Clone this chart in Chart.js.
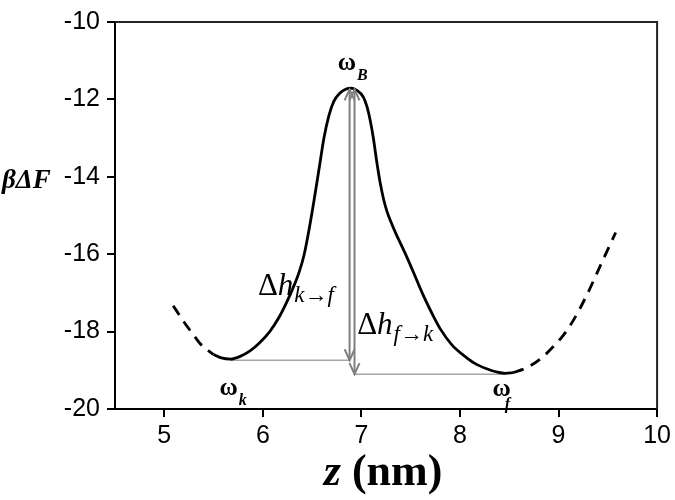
<!DOCTYPE html>
<html lang="en">
    <head>
        <meta charset="utf-8" />
        <title>Free energy profile</title>
        <style>
            body { margin: 0; background: #fff; }
            #box { width: 675px; height: 500px; }
        </style>
    </head>
    <body>
        <div id="box"><canvas id="grafico"></canvas></div>

        <script src="https://cdn.jsdelivr.net/npm/chart.js@4.4.1/dist/chart.umd.min.js"></script>

        <script>
            // datos
            const xTicks = [5, 6, 7, 8, 9, 10];
            const yTicks = [-20, -18, -16, -14, -12, -10];

            const zIzqDash = [5.09, 5.2, 5.3, 5.36, 5.45, 5.5];
            const fIzqDash = [-17.33, -17.75, -18.1, -18.3, -18.5, -18.59];

            const zSolida = [5.5, 5.58, 5.67, 5.77, 5.87, 5.97, 6.07, 6.16, 6.24, 6.31, 6.37, 6.42, 6.47, 6.52, 6.57, 6.62, 6.67, 6.72, 6.78, 6.84, 6.89, 6.95, 7.02, 7.06, 7.09, 7.12, 7.155, 7.19, 7.225, 7.26, 7.3, 7.35, 7.4, 7.46, 7.53, 7.62, 7.71, 7.8, 7.92, 8.04, 8.15, 8.27, 8.38, 8.46, 8.54];
            const fSolida = [-18.59, -18.68, -18.71, -18.64, -18.5, -18.28, -18.0, -17.65, -17.25, -16.85, -16.45, -16.0, -15.35, -14.6, -13.8, -13.0, -12.42, -12.05, -11.84, -11.74, -11.71, -11.76, -11.94, -12.22, -12.55, -12.98, -13.6, -14.15, -14.58, -14.9, -15.17, -15.47, -15.74, -16.07, -16.48, -17.02, -17.5, -17.93, -18.35, -18.62, -18.82, -18.96, -19.05, -19.08, -19.06];

            const zDerDash = [8.54, 8.68, 8.81, 8.95, 9.05, 9.15, 9.29, 9.42, 9.58];
            const fDerDash = [-19.06, -18.93, -18.72, -18.38, -18.09, -17.71, -17.04, -16.32, -15.44];

            // flechas verticales (x, arriba, abajo) y lineas horizontales
            const flechaX = [6.88, 6.93];
            const flechaTop = [-11.74, -11.74];
            const flechaBot = [-18.74, -19.1];
            const lineaK = { x: [5.67, 6.88], y: [-18.74, -18.74] };
            const lineaF = { x: [6.93, 8.46], y: [-19.1, -19.1] };

            function puntos(xs, ys) {
                return xs.map((v, i) => ({ x: v, y: ys[i] }));
            }

            const SERIF = '"Liberation Serif", "Times New Roman", serif';

            function sub(ctx, base, fontBase, s, fontSub, x, y, dx, dy) {
                ctx.font = fontBase;
                ctx.fillText(base, x, y);
                const w = ctx.measureText(base).width;
                ctx.font = fontSub;
                ctx.fillText(s, x + w + dx, y + dy);
            }

            const extras = {
                id: "extras",
                afterDraw(chart) {
                    const ctx = chart.ctx;
                    const a = chart.chartArea;
                    const sx = chart.scales.x;
                    const sy = chart.scales.y;
                    ctx.save();

                    // marco superior y derecho
                    ctx.strokeStyle = "#222";
                    ctx.lineWidth = 2;
                    ctx.beginPath();
                    ctx.moveTo(a.left, a.top);
                    ctx.lineTo(a.right, a.top);
                    ctx.lineTo(a.right, a.bottom);
                    ctx.stroke();

                    // flechas dobles
                    ctx.strokeStyle = "#7f7f7f";
                    ctx.lineWidth = 2;
                    for (let i = 0; i < flechaX.length; i++) {
                        const px = sx.getPixelForValue(flechaX[i]);
                        const y1 = sy.getPixelForValue(flechaTop[i]);
                        const y2 = sy.getPixelForValue(flechaBot[i]);
                        ctx.beginPath();
                        ctx.moveTo(px, y1);
                        ctx.lineTo(px, y2);
                        ctx.stroke();
                        ctx.beginPath();
                        ctx.moveTo(px - 5, y2 - 11);
                        ctx.lineTo(px, y2);
                        ctx.lineTo(px + 5, y2 - 11);
                        ctx.stroke();
                        ctx.beginPath();
                        ctx.moveTo(px - 5, y1 + 11);
                        ctx.lineTo(px, y1);
                        ctx.lineTo(px + 5, y1 + 11);
                        ctx.stroke();
                    }

                    // textos
                    ctx.fillStyle = "#000";
                    ctx.textBaseline = "alphabetic";
                    ctx.textAlign = "left";
                    const P = (x, y) => [sx.getPixelForValue(x), sy.getPixelForValue(y)];

                    let p = P(6.76, -11.24);
                    sub(ctx, "ω", "bold 25px " + SERIF, "B", "bold italic 16px " + SERIF, p[0], p[1], 1, 10);
                    p = P(5.56, -19.65);
                    sub(ctx, "ω", "bold 25px " + SERIF, "k", "bold italic 16px " + SERIF, p[0], p[1], 1, 10);
                    p = P(8.33, -19.67);
                    sub(ctx, "ω", "bold 25px " + SERIF, "f", "bold italic 16px " + SERIF, p[0], p[1], -6, 13);

                    p = P(5.95, -17.05);
                    ctx.font = "31px " + SERIF;
                    ctx.fillText("Δ", p[0], p[1]);
                    let w = ctx.measureText("Δ").width;
                    sub(ctx, "h", "italic 31px " + SERIF, "k→f", "italic 23px " + SERIF, p[0] + w, p[1], 1, 7);
                    p = P(6.957, -18.06);
                    ctx.font = "31px " + SERIF;
                    ctx.fillText("Δ", p[0], p[1]);
                    w = ctx.measureText("Δ").width;
                    sub(ctx, "h", "italic 31px " + SERIF, "f→k", "italic 23px " + SERIF, p[0] + w, p[1], 1, 7);

                    // titulo eje y
                    ctx.font = "bold italic 27px " + SERIF;
                    ctx.fillText("βΔF", 2, sy.getPixelForValue(-14) + 11);

                    // titulo eje x
                    const t1 = "z";
                    const t2 = " (nm)";
                    ctx.font = "bold italic 44px " + SERIF;
                    const w1 = ctx.measureText(t1).width;
                    ctx.font = "bold 44px " + SERIF;
                    const w2 = ctx.measureText(t2).width;
                    const cx = sx.getPixelForValue(7.22);
                    const x0 = cx - (w1 + w2) / 2;
                    const by = a.bottom + 76;
                    ctx.font = "bold italic 44px " + SERIF;
                    ctx.fillText(t1, x0, by);
                    ctx.font = "bold 44px " + SERIF;
                    ctx.fillText(t2, x0 + w1, by);

                    ctx.restore();
                },
            };

            const ejeComun = {
                type: "linear",
                grid: { display: true, drawOnChartArea: false, drawTicks: true, tickLength: 8, color: "#000", lineWidth: 2 },
                border: { display: true, color: "#000", width: 2 },
            };
            const fuenteTicks = { family: '"Liberation Sans", Arial, sans-serif', size: 25 };

            const curva = {
                showLine: true,
                borderColor: "#000",
                borderWidth: 2.8,
                pointRadius: 0,
                cubicInterpolationMode: "monotone",
            };

            new Chart(document.getElementById("grafico"), {
                type: "scatter",
                data: {
                    datasets: [
                        { ...curva, data: puntos(zSolida, fSolida) },
                        { ...curva, data: puntos(zIzqDash, fIzqDash), borderDash: [11, 8] },
                        { ...curva, data: puntos(zDerDash, fDerDash), borderDash: [11, 8] },
                        {
                            data: puntos(lineaK.x, lineaK.y),
                            showLine: true,
                            borderColor: "#a6a6a6",
                            borderWidth: 1.5,
                            pointRadius: 0,
                        },
                        {
                            data: puntos(lineaF.x, lineaF.y),
                            showLine: true,
                            borderColor: "#a6a6a6",
                            borderWidth: 1.5,
                            pointRadius: 0,
                        },
                    ],
                },
                options: {
                    responsive: true,
                    maintainAspectRatio: false,
                    animation: false,
                    layout: { padding: { left: 0, top: 13, right: 16, bottom: 0 } },
                    plugins: { legend: { display: false }, tooltip: { enabled: false } },
                    scales: {
                        x: {
                            ...ejeComun,
                            min: 4.5,
                            max: 10,
                            afterBuildTicks: (s) => { s.ticks = xTicks.map((v) => ({ value: v })); },
                            afterFit: (s) => { s.height = 91; },
                            ticks: { color: "#000", font: fuenteTicks, padding: 4, maxRotation: 0 },
                        },
                        y: {
                            ...ejeComun,
                            min: -20,
                            max: -10,
                            afterBuildTicks: (s) => { s.ticks = yTicks.map((v) => ({ value: v })); },
                            afterFit: (s) => { s.width = 115; },
                            ticks: { color: "#000", font: fuenteTicks, padding: 7 },
                        },
                    },
                },
                plugins: [extras],
            });
        </script>
    </body>
</html>
